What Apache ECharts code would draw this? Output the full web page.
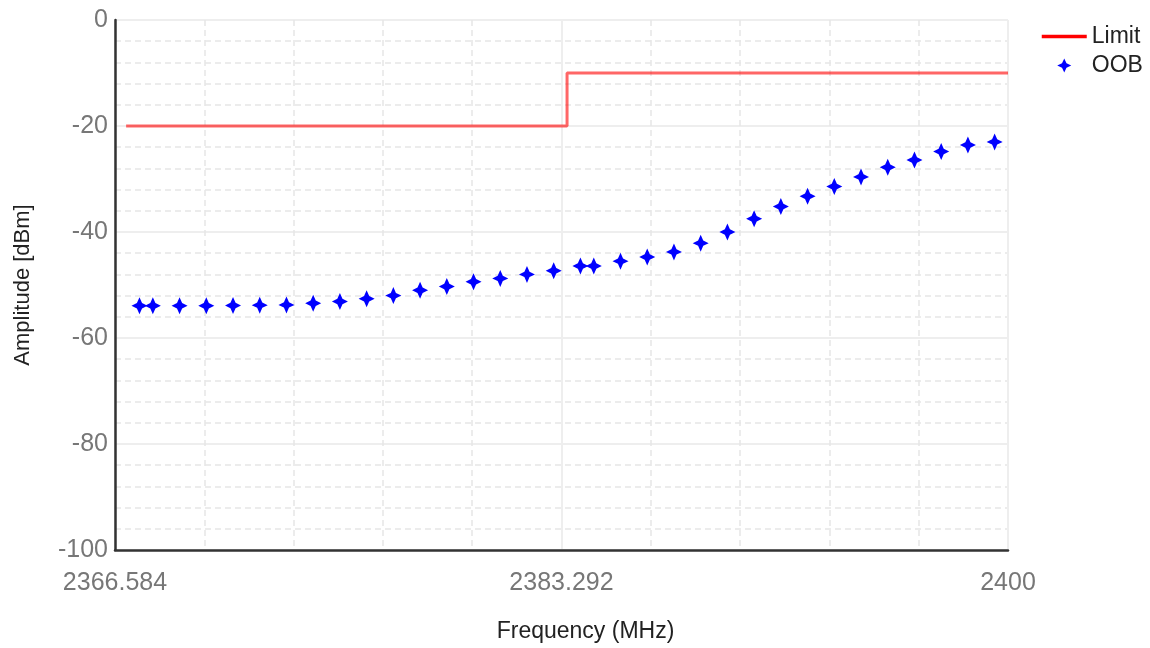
<!DOCTYPE html>
<html>
<head>
<meta charset="utf-8">
<script src="https://cdn.jsdelivr.net/npm/echarts@6/dist/echarts.min.js"></script>
<style>
html,body{margin:0;padding:0;background:#fff;}
#chart{width:1150px;height:648px;}
</style>
</head>
<body>
<div id="chart"></div>
<script>
// ---- data ----
const xTickMin = 2366.584;
const xTickMax = 2400;
const xTickStep = 16.708;
const yTicks = [-100, -80, -60, -40, -20, 0];

const limitFreq  = [2367.0, 2383.5, 2383.5, 2400];
const limitLevel = [-20, -20, -10, -10];

const oobFreq = [2367.5, 2368, 2369, 2370, 2371, 2372, 2373, 2374, 2375, 2376,
                 2377, 2378, 2379, 2380, 2381, 2382, 2383, 2384, 2384.5, 2385.5,
                 2386.5, 2387.5, 2388.5, 2389.5, 2390.5, 2391.5, 2392.5, 2393.5, 2394.5, 2395.5,
                 2396.5, 2397.5, 2398.5, 2399.5];
const oobLevel = [-53.9, -53.9, -53.9, -53.9, -53.85, -53.8, -53.75, -53.45, -53.1, -52.6,
                  -52.0, -51.0, -50.3, -49.4, -48.75, -48.0, -47.3, -46.4, -46.4, -45.5,
                  -44.7, -43.75, -42.1, -40.0, -37.5, -35.2, -33.25, -31.4, -29.6, -27.8,
                  -26.4, -24.8, -23.6, -23.0];

const FONT = '"Liberation Sans", Arial, sans-serif';
const starPath = 'path://M50,0 L66,34 L100,50 L66,66 L50,100 L34,66 L0,50 L34,34 Z';

const chart = echarts.init(document.getElementById('chart'), null, {renderer: 'canvas'});

const option = {
  backgroundColor: '#ffffff',
  animation: false,
  textStyle: {fontFamily: FONT},
  grid: {left: 115, right: 142, top: 20, bottom: 94, containLabel: false},
  legend: {
    orient: 'vertical',
    left: 1035,
    top: 20,
    itemWidth: 45,
    itemHeight: 14,
    itemGap: 6,
    textStyle: {fontFamily: FONT, fontSize: 23, color: '#222'},
    data: [
      {name: 'Limit', itemStyle: {opacity: 0}, lineStyle: {color: '#ff0000', width: 3.5, opacity: 1}},
      {name: 'OOB', icon: starPath, itemStyle: {color: '#0000ff'}}
    ]
  },
  xAxis: {
    type: 'value',
    min: xTickMin,
    max: xTickMax,
    interval: xTickStep,
    name: 'Frequency (MHz)',
    nameLocation: 'middle',
    nameGap: 70,
    nameTextStyle: {fontFamily: FONT, fontSize: 23, color: '#222', padding: [0, 0, 0, 48]},
    axisLine: {show: true, onZero: false, lineStyle: {color: '#333', width: 2.5}},
    axisTick: {show: false},
    axisLabel: {
      fontFamily: FONT, fontSize: 25, color: '#777', margin: 21,
      formatter: function (v) { return String(parseFloat(Number(v).toFixed(3))); }
    },
    splitLine: {show: true, lineStyle: {color: '#eeeeee', width: 2}},
    minorTick: {show: false, splitNumber: 5},
    minorSplitLine: {show: true, lineStyle: {color: '#e6e6e6', width: 1.5, type: [6, 4]}}
  },
  yAxis: {
    type: 'value',
    min: yTicks[0],
    max: yTicks[yTicks.length - 1],
    interval: 20,
    name: 'Amplitude [dBm]',
    nameLocation: 'middle',
    nameGap: 81,
    nameTextStyle: {fontFamily: FONT, fontSize: 22, color: '#222'},
    axisLine: {show: true, onZero: false, lineStyle: {color: '#333', width: 2.5}},
    axisTick: {show: false},
    axisLabel: {fontFamily: FONT, fontSize: 25, color: '#777', margin: 7},
    splitLine: {show: true, lineStyle: {color: '#eeeeee', width: 2}},
    minorTick: {show: false, splitNumber: 5},
    minorSplitLine: {show: true, lineStyle: {color: '#e6e6e6', width: 1.5, type: [6, 4]}}
  },
  series: [
    {
      name: 'Limit',
      type: 'line',
      symbol: 'none',
      data: limitFreq.map((f, i) => [f, limitLevel[i]]),
      lineStyle: {color: '#ff0000', width: 3, opacity: 0.6},
      itemStyle: {color: '#ff0000'},
      z: 3
    },
    {
      name: 'OOB',
      type: 'scatter',
      symbol: starPath,
      symbolSize: [16, 17],
      data: oobFreq.map((f, i) => [f, oobLevel[i]]),
      itemStyle: {color: '#0000ff', opacity: 1},
      z: 4
    }
  ]
};

chart.setOption(option);
</script>
</body>
</html>
